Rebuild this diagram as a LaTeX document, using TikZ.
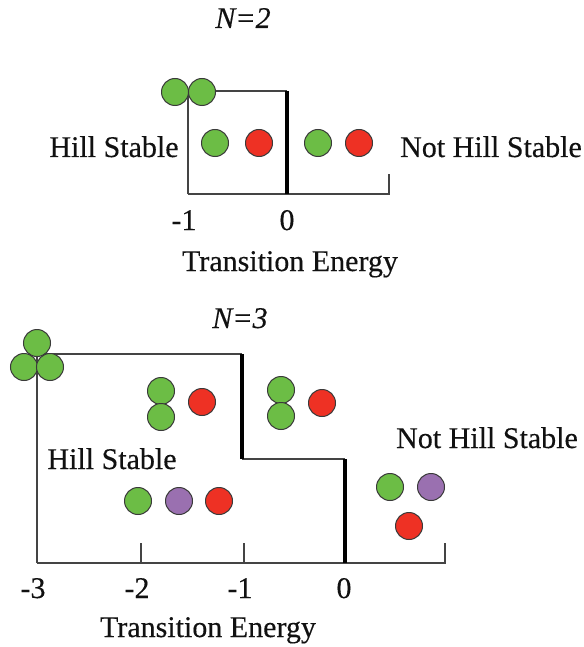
\documentclass[tikz,border=0pt]{standalone}
\usepackage{fontspec}
\setmainfont{Liberation Serif}[FakeBold=0.35]
\definecolor{gball}{HTML}{6CBD45}
\definecolor{rball}{HTML}{EE3124}
\definecolor{pball}{HTML}{9A70B0}
\definecolor{ballrim}{HTML}{3A3A3A}
\definecolor{framegray}{HTML}{444444}
\definecolor{ink}{HTML}{111111}
\begin{document}
\begin{tikzpicture}[x=1pt,y=-1pt,
  ball/.style={circle,draw=ballrim,line width=1pt,minimum size=27pt,inner sep=0pt},
  gb/.style={ball,fill=gball},
  rb/.style={ball,fill=rball},
  pb/.style={ball,fill=pball},
  frame/.style={draw=framegray,line width=1.4pt},
  wall/.style={draw=black,line width=4pt},
  lbl/.style={anchor=base,inner sep=0pt,text=ink,font=\fontsize{30}{36}\selectfont}]
\useasboundingbox (0,0) rectangle (583,647);

% ---------- N = 2 ----------
\node[lbl] (t2) at (243,28) {\itshape N=2};
\coordinate (a1) at (188,91);
\coordinate (a2) at (287,91);
\coordinate (a3) at (287,194);
\coordinate (a4) at (188,194);
\coordinate (a5) at (389,194);
\coordinate (a6) at (389,174);
\draw[frame] (a4) -- (a1) -- (a2);
\draw[frame] (a4) -- (a5) -- (a6);
\draw[wall] (a2) -- (a3);

\node[gb] (p1) at (175,92) {};
\node[gb] (p2) at (202,92) {};
\node[gb] (s1) at (215,143) {};
\node[rb] (s2) at (259,143) {};
\node[gb] (u1) at (318,143) {};
\node[rb] (u2) at (359,143) {};

\node[lbl] (hs2) at (114,157) {Hill Stable};
\node[lbl] (nhs2) at (491,157) {Not Hill Stable};
\node[lbl] (m1a) at (184,230) {-1};
\node[lbl] (z0a) at (287,230) {0};
\node[lbl] (te2) at (290,271) {Transition Energy};

% ---------- N = 3 ----------
\node[lbl] (t3) at (240,328) {\itshape N=3};
\coordinate (b1) at (37,354);
\coordinate (b2) at (242,354);
\coordinate (b3) at (242,459);
\coordinate (b4) at (345,459);
\coordinate (b5) at (345,563);
\coordinate (b6) at (37,563);
\coordinate (b7) at (445,563);
\coordinate (b8) at (445,543);
\coordinate (k1) at (141,563);
\coordinate (k2) at (141,543);
\coordinate (k3) at (244,563);
\coordinate (k4) at (244,543);
\draw[frame] (b6) -- (b1) -- (b2);
\draw[frame] (b3) -- (b4);
\draw[frame] (b6) -- (b7) -- (b8);
\draw[frame] (k1) -- (k2);
\draw[frame] (k3) -- (k4);
\draw[wall] (b2) -- (b3);
\draw[wall] (b4) -- (b5);

\node[gb] (c1) at (37,343) {};
\node[gb] (c2) at (24,367) {};
\node[gb] (c3) at (50,367) {};

\node[gb] (d1) at (161,391) {};
\node[gb] (d2) at (161,417) {};
\node[rb] (d3) at (202,402) {};

\node[gb] (e1) at (281,390) {};
\node[gb] (e2) at (281,416) {};
\node[rb] (e3) at (322,403) {};

\node[gb] (f1) at (138,501) {};
\node[pb] (f2) at (179,501) {};
\node[rb] (f3) at (219,501) {};

\node[gb] (g1) at (390,487) {};
\node[pb] (g2) at (431,487) {};
\node[rb] (g3) at (409,526) {};

\node[lbl] (hs3) at (112,469) {Hill Stable};
\node[lbl] (nhs3) at (487,448) {Not Hill Stable};
\node[lbl] (m3) at (33,598) {-3};
\node[lbl] (m2) at (137,598) {-2};
\node[lbl] (m1b) at (240,598) {-1};
\node[lbl] (z0b) at (344,598) {0};
\node[lbl] (te3) at (208,637) {Transition Energy};
\end{tikzpicture}
\end{document}
